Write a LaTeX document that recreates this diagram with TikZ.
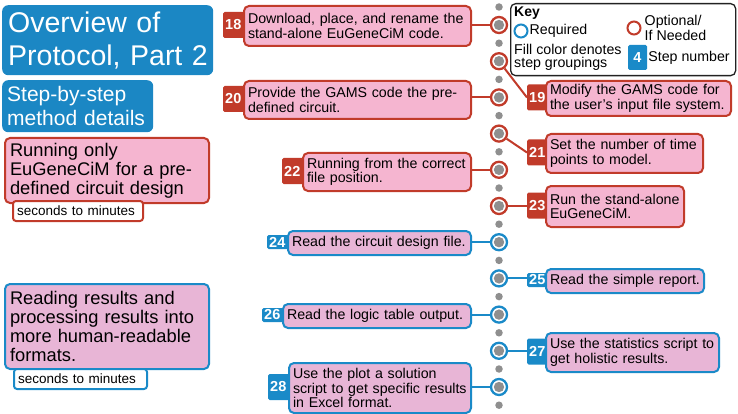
\documentclass[tikz,border=0pt]{standalone}
\usepackage{fontspec}
\setmainfont{Liberation Sans}
\usepackage{xcolor}
\usetikzlibrary{positioning}
\pgfdeclarelayer{bg}
\pgfsetlayers{bg,main}

\definecolor{protoblue}{HTML}{1B87C4}
\definecolor{stepblue}{HTML}{1A8AC8}
\definecolor{stepred}{HTML}{C13B2A}
\definecolor{pinkred}{HTML}{F5B5D0}
\definecolor{pinkblue}{HTML}{E8B5D6}
\definecolor{dotgray}{HTML}{8F8F8F}
\definecolor{keyline}{HTML}{222222}

\begin{document}
\begin{tikzpicture}[x=1pt, y=-1pt,
	redbox/.style={draw=stepred, fill=pinkred, line width=2pt, rounded corners=5pt, align=left, inner xsep=4pt, inner ysep=1pt, anchor=north west, font=\fontsize{14.2}{14.5}\selectfont},
	bluebox/.style={redbox, draw=stepblue, fill=pinkblue},
	redtag/.style={fill=stepred, text=white, font=\bfseries\fontsize{14.5}{14}\selectfont, rounded corners=1.5pt, inner xsep=2pt, inner ysep=0pt, text width=20pt, align=left, anchor=west},
	bluetag/.style={redtag, fill=stepblue},
	ring/.style={circle, draw=#1, line width=2.3pt, fill=white, minimum size=16pt, inner sep=0pt, path picture={\fill[dotgray] (path picture bounding box.center) circle (5.2pt);}},
	dot/.style={circle, fill=dotgray, minimum size=7.5pt, inner sep=0pt},
	timebox/.style={fill=white, line width=2pt, rounded corners=3pt, anchor=north west, align=left, inner xsep=4pt, inner ysep=0pt, minimum height=20pt, font=\fontsize{13.5}{14}\selectfont}]
	\useasboundingbox (0,0) rectangle (738,414);

	% left column
	\node[fill=protoblue, text=white, rounded corners=6pt, anchor=north west, text width=205pt, inner xsep=3pt, minimum height=70pt, align=left, font=\fontsize{28.5}{33}\selectfont] (title) at (2,5) {\hspace*{3pt}Overview of\\\hspace*{3pt}Protocol, Part 2};
	\node[fill=protoblue, text=white, rounded corners=6pt, anchor=north west, text width=141pt, inner xsep=5pt, minimum height=52pt, align=left, font=\fontsize{21}{24.5}\selectfont] (sub) at (2,80) {Step-by-step\\method details};
	\node[redbox, text width=194pt, inner xsep=5pt, minimum height=65pt, font=\fontsize{18.3}{19}\selectfont] (grpA) at (4,137) {Running only\\EuGeneCiM for a pre-\\defined circuit design};
	\node[timebox, draw=stepred, text width=122pt] (timeA) at (12,200) {seconds to minutes};
	\node[bluebox, text width=194pt, inner xsep=5pt, minimum height=85pt, font=\fontsize{18.3}{19}\selectfont] (grpB) at (4,283) {Reading results and\\processing results into\\more human-readable\\formats.};
	\node[timebox, draw=stepblue, text width=125pt] (timeB) at (13,368) {seconds to minutes};

	% the time line
	\foreach \k in {0,...,11}
	{
		\node[dot] (d\k) at (499, {7+36.2*\k}) {};
	}
	\foreach \n/\col in {18/stepred, 19/stepred, 20/stepred, 21/stepred, 22/stepred, 23/stepred, 24/stepblue, 25/stepblue, 26/stepblue, 27/stepblue, 28/stepblue}
	{
		\node[ring=\col] (c\n) at (499, {25+36.2*(\n-18)}) {};
	}

	% steps, left side
	\node[redtag, minimum height=26pt] (b18) at (223,25) {18};
	\node[redbox, text width=219pt, minimum height=40pt] (s18) at (243,5) {Download, place, and rename the\\stand-alone EuGeneCiM code.};
	\node[redtag, minimum height=26pt] (b20) at (223,99) {20};
	\node[redbox, text width=219pt, minimum height=38pt] (s20) at (243,80) {Provide the GAMS code the pre-\\defined circuit.};
	\node[redtag, minimum height=26pt] (b22) at (282,171) {22};
	\node[redbox, text width=160pt, minimum height=38pt] (s22) at (302,152) {Running from the correct\\file position.};
	\node[bluetag, minimum height=14pt] (b24) at (267,242) {24};
	\node[bluebox, text width=175pt, minimum height=24pt] (s24) at (287,230) {Read the circuit design file.};
	\node[bluetag, minimum height=14pt] (b26) at (262,315) {26};
	\node[bluebox, text width=180pt, minimum height=24pt] (s26) at (282,303) {Read the logic table output.};
	\node[bluetag, minimum height=26pt] (b28) at (268,387) {28};
	\node[bluebox, text width=174pt, minimum height=50pt] (s28) at (288,362) {Use the plot a solution\\script to get specific results\\in Excel format.};

	% steps, right side
	\node[redtag, minimum height=26pt] (b19) at (527,97.5) {19};
	\node[redbox, text width=177pt, minimum height=35pt] (s19) at (545,80) {Modify the GAMS code for\\the user's input file system.};
	\node[redtag, minimum height=26pt] (b21) at (527,152.5) {21};
	\node[redbox, text width=149pt, minimum height=39pt] (s21) at (545,133) {Set the number of time\\points to model.};
	\node[redtag, minimum height=26pt] (b23) at (527,205.5) {23};
	\node[redbox, text width=130pt, minimum height=41pt] (s23) at (545,185) {Run the stand-alone\\EuGeneCiM.};
	\node[bluetag, minimum height=14pt] (b25) at (527,280) {25};
	\node[bluebox, text width=150pt, minimum height=24pt] (s25) at (545,268) {Read the simple report.};
	\node[bluetag, minimum height=26pt] (b27) at (527,351.5) {27};
	\node[bluebox, text width=165pt, minimum height=39pt] (s27) at (545,332) {Use the statistics script to\\get holistic results.};

	% connectors
	\begin{pgfonlayer}{bg}
		\foreach \n in {18, 20, 22}
			\draw[stepred, line width=2pt] (c\n -| s\n.east) -- (c\n);
		\foreach \n in {24, 26, 28}
			\draw[stepblue, line width=2pt] (c\n -| s\n.east) -- (c\n);
		\draw[stepred, line width=2pt] (c19) -- (b19.west);
		\draw[stepred, line width=2pt] (c21) -- (b21.west);
		\draw[stepred, line width=2pt] (c23) -- (c23 -| b23.west);
		\draw[stepblue, line width=2pt] (c25) -- (c25 -| b25.west);
		\draw[stepblue, line width=2pt] (c27) -- (c27 -| b27.west);
	\end{pgfonlayer}

	% key
	\node[draw=keyline, line width=1.3pt, rounded corners=5pt, fill=white, minimum width=225pt, minimum height=72pt, anchor=north west] (key) at (510,3) {};
	\node[anchor=west, inner sep=0pt, font=\bfseries\fontsize{14}{14}\selectfont] (keyhd) at (514,13) {Key};
	\node[circle, draw=stepblue, line width=2pt, minimum size=13pt, inner sep=0pt] (kreq) at (521,31) {};
	\node[right=1pt of kreq, inner sep=0pt, font=\fontsize{14.2}{14}\selectfont] (kreqtxt) {Required};
	\node[circle, draw=stepred, line width=2pt, minimum size=13pt, inner sep=0pt] (kopt) at (634,28) {};
	\node[right=3pt of kopt, inner sep=0pt, align=left, font=\fontsize{14.2}{13}\selectfont] (kopttxt) {Optional/\\If Needed};
	\node[anchor=west, inner sep=0pt, align=left, font=\fontsize{14.2}{13}\selectfont] (kfill) at (514,57) {Fill color denotes\\step groupings};
	\node[fill=stepblue, text=white, rounded corners=1.5pt, minimum width=19pt, minimum height=25pt, inner sep=0pt, font=\bfseries\fontsize{14.5}{14}\selectfont] (kbadge) at (637.5,57.5) {4};
	\node[right=1pt of kbadge, inner sep=0pt, font=\fontsize{14.2}{14}\selectfont] (kstep) {Step number};
\end{tikzpicture}
\end{document}
